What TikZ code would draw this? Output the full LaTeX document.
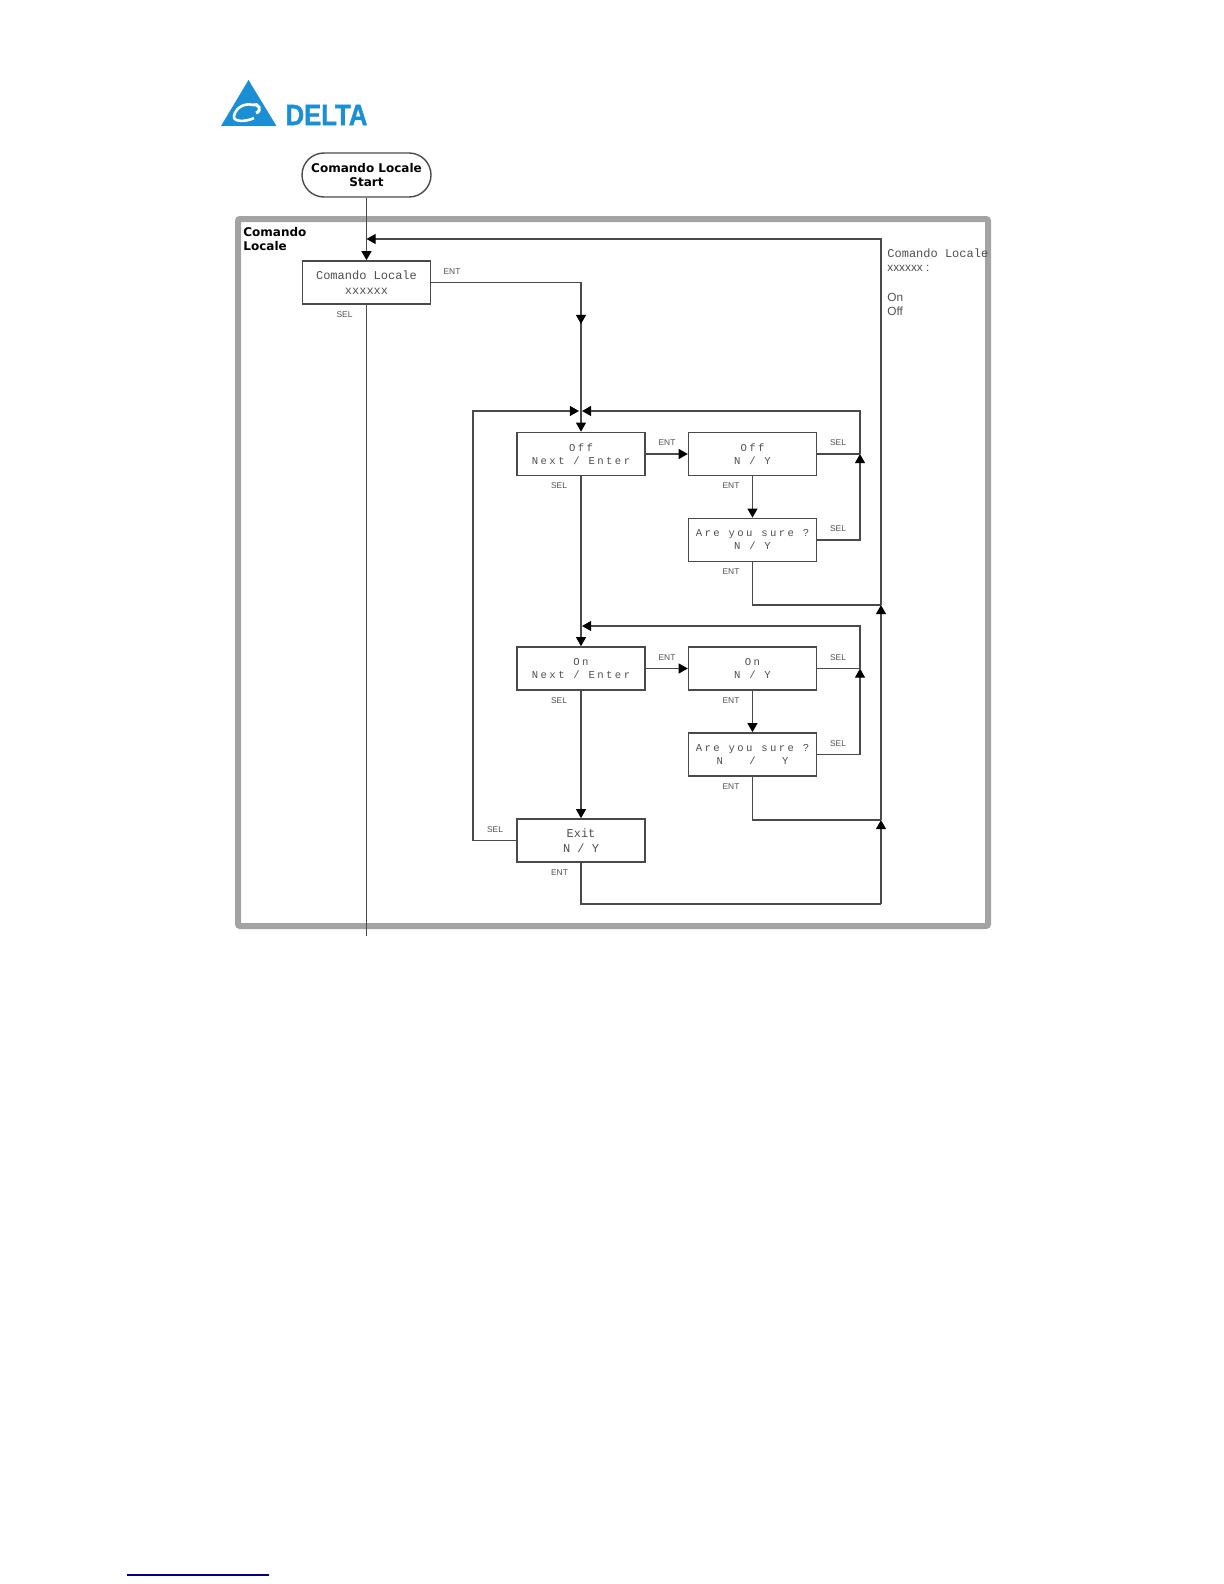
\documentclass[tikz,border=0pt]{standalone}
\usepackage{fontspec}
\usetikzlibrary{arrows.meta}
\newfontfamily\lcdfont{Liberation Mono}
\newfontfamily\lcdwide[LetterSpace=23]{Liberation Mono}
\newfontfamily\heavyfont{DejaVu Sans}
\newfontfamily\logofont[FakeBold=1.6]{Liberation Sans Bold}
\setmainfont{Liberation Sans}
\definecolor{deltablue}{HTML}{1B8FD6}
\definecolor{framegray}{HTML}{A3A3A3}
\definecolor{linegray}{HTML}{4A4A4A}
\definecolor{labelgray}{HTML}{505050}
\tikzset{
    flow/.style={draw=linegray, line width=0.7pt},
    tip/.style={flow, -{Triangle[length=4.6pt,width=5pt,color=black]}},
    lcdbox/.style={draw=linegray, line width=0.7pt, fill=white, minimum width=64pt, minimum height=21.6pt, inner sep=0pt, align=center, text=labelgray},
    widebox/.style={lcdbox, font=\lcdwide\fontsize{5.3}{6.5}\selectfont},
    narrowbox/.style={lcdbox, font=\lcdfont\fontsize{6}{7.4}\selectfont},
    keylabel/.style={font=\fontsize{4.2}{5}\selectfont, text=labelgray, inner sep=0pt},
    heavy/.style={font=\heavyfont\bfseries\fontsize{6}{7.2}\selectfont, align=center, inner sep=0pt},
    notetext/.style={font=\fontsize{5.9}{7}\selectfont, text=labelgray, anchor=west, inner sep=0pt}
}
\newcommand{\keylabels}[1]{
    \foreach\t/\x/\y [count=\k] in {#1} {
        \node[keylabel] (key\k) at (\x,\y) {\t};
    }
}
\begin{document}
\begin{tikzpicture}[x=0.5pt, y=-0.5pt]
    \useasboundingbox (0,0) rectangle (1224,1584);

    %% Logo
    \fill[deltablue] (248.5,80) -- (276.5,126) -- (221,126) -- cycle;
    \draw[white, line width=1.3pt] (253,105) .. controls (243,102) and (234,110) .. (234,117) .. controls (234,122) and (246,122) .. (254,118);
    \draw[white, line width=1.5pt] (253,105) .. controls (258,102) and (263,111) .. (256,113);
    \node[font=\logofont\fontsize{14.6}{15}\selectfont, text=deltablue, xscale=0.88, transform shape, inner sep=0pt] (logotext) at (326.5,115) {DELTA};

    %% Frame
    \draw[framegray, line width=3pt, rounded corners=1pt] (238,219) rectangle (988,926);
    \node[heavy, align=left, anchor=north west] (frametitle) at (243,227) {Comando\\Locale};

    %% Boxes
    \node[heavy, draw=linegray, line width=0.7pt, rounded corners=11pt, minimum width=64.5pt, minimum height=22pt] (start) at (366.5,175) {Comando Locale\\Start};
    \node[narrowbox] (local) at (366.5,282.5) {Comando Locale\\xxxxxx};

    % Off
    \node[widebox] (off) at (581,454) {Off\\Next / Enter};
    \node[widebox] (offyn) at (752.5,454) {Off\\N / Y};
    \node[widebox] (offsure) at (752.5,540) {Are you sure ?\\N / Y};

    % On
    \node[widebox] (on) at (581,668.5) {On\\Next / Enter};
    \node[widebox] (onyn) at (752.5,668.5) {On\\N / Y};
    \node[widebox] (onsure) at (752.5,754.5) {Are you sure ?\\N~~~/~~~Y};

    % Exit
    \node[narrowbox] (exit) at (581,840.5) {Exit\\N / Y};

    %% Junctions
    \coordinate (entry) at (366.5,239);
    \coordinate (out) at (366.5,936);
    \coordinate (entcorner) at (581,282.5);
    \coordinate (entmid) at (581,324);
    \coordinate (topjoin) at (581,411);
    \coordinate (offleft) at (579,411);
    \coordinate (offright) at (582,411);
    \coordinate (exitleft) at (473,840.5);
    \coordinate (topleft) at (473,411);
    \coordinate (offreturn) at (860,454);
    \coordinate (offtop) at (860,411);
    \coordinate (offbelow) at (860,540);
    \coordinate (midjoin) at (582,626);
    \coordinate (onreturn) at (860,668.5);
    \coordinate (ontop) at (860,626);
    \coordinate (onbelow) at (860,754.5);
    \coordinate (backtop) at (881,239);
    \coordinate (backoff) at (881,605);
    \coordinate (backon) at (881,820);
    \coordinate (backend) at (881,904);
    \coordinate (offdown) at (752.5,605);
    \coordinate (ondown) at (752.5,820);
    \coordinate (exitdown) at (581,904);

    %% Connectors
    \draw[tip] (start) -- (local);
    \draw[flow] (local) -- (out);
    \draw[flow] (local.east) -- (entcorner) -- (entmid);
    \draw[tip] (entcorner) -- (entmid);
    \draw[flow] (entmid) -- (topjoin);
    \draw[tip] (topjoin) -- (off);
    \draw[tip] (off) -- (on);
    \draw[tip] (on) -- (exit);

    % Off branch
    \draw[tip] (off) -- (offyn);
    \draw[tip] (offyn) -- (offsure);
    \draw[flow] (offyn) -- (offreturn);
    \draw[tip] (offsure.east) -| (offreturn);
    \draw[tip] (offreturn) |- (offright);
    \draw[flow] (offsure) -- (offdown) -- (backoff);

    % On branch
    \draw[tip] (on) -- (onyn);
    \draw[tip] (onyn) -- (onsure);
    \draw[flow] (onyn) -- (onreturn);
    \draw[tip] (onsure.east) -| (onreturn);
    \draw[tip] (onreturn) |- (midjoin);
    \draw[flow] (onsure) -- (ondown) -- (backon);

    % Exit and way back
    \draw[tip] (exit.west) -- (exitleft) -- (topleft) -- (offleft);
    \draw[flow] (exit) -- (exitdown) -- (backend);
    \draw[tip] (backend) -- (backon);
    \draw[tip] (backon) -- (backoff);
    \draw[tip] (backoff) |- (entry);

    %% Labels
    \keylabels{ENT/452/272, SEL/344.5/314.5,
        ENT/667/443, ENT/731/486, SEL/838/443, SEL/838/529, ENT/731/572, SEL/559/486,
        ENT/667/658, ENT/731/700.5, SEL/838/658, SEL/838/743.5, ENT/731/786.5, SEL/559/700.5,
        SEL/495/829.5, ENT/559.5/872.5}

    % Note
    \node[notetext, font=\lcdfont\fontsize{6}{7}\selectfont] (notetitle) at (887,253) {Comando Locale};
    \node[notetext] (notevar) at (887,268) {xxxxxx :};
    \node[notetext] (noteon) at (887,297) {On};
    \node[notetext] (noteoff) at (887,311) {Off};

    %% Footnote rule
    \coordinate (rulea) at (127,1575);
    \coordinate (ruleb) at (269,1575);
    \draw[blue!50!black, line width=0.6pt] (rulea) -- (ruleb);
\end{tikzpicture}
\end{document}
